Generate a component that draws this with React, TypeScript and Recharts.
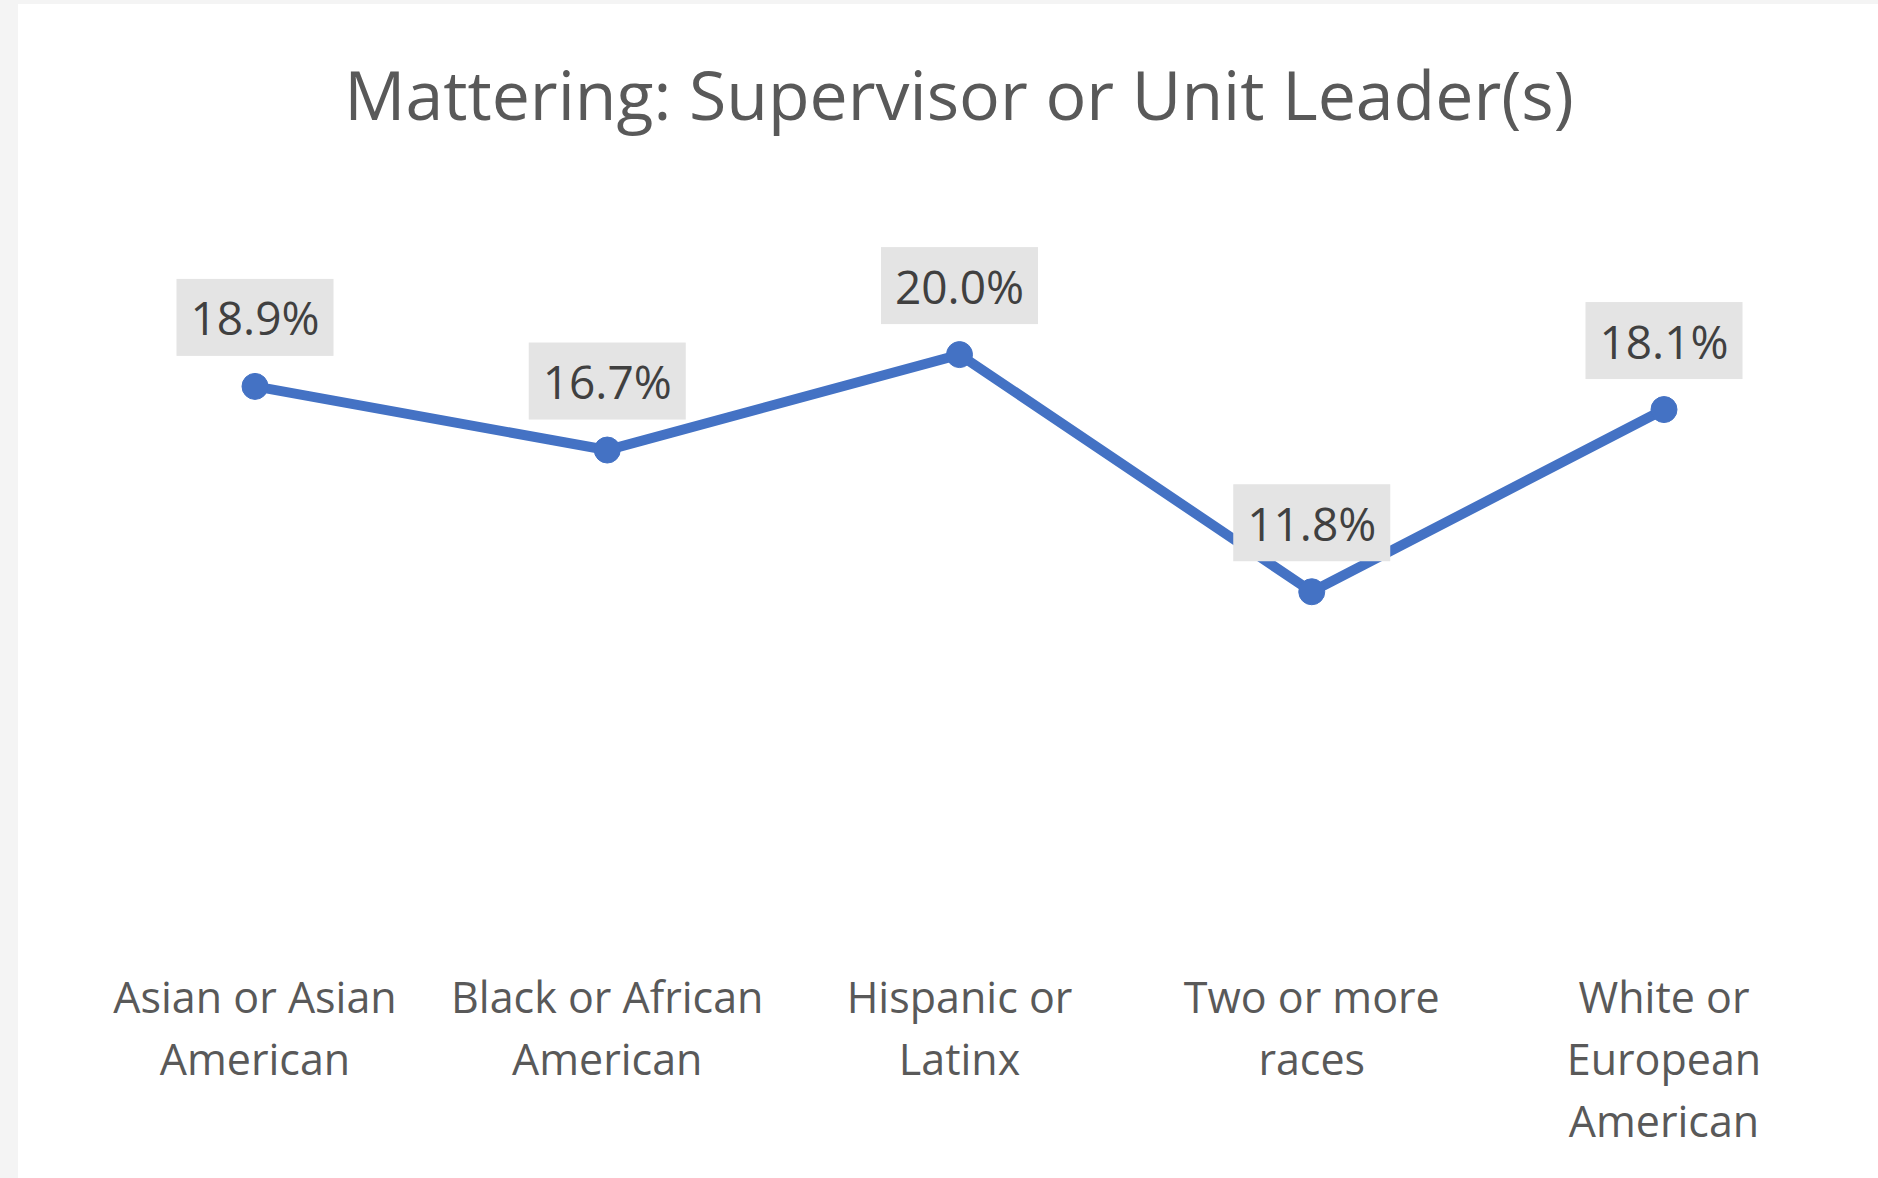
import { LineChart, Line, XAxis, YAxis, LabelList } from 'recharts'

const categories = [
  'Asian or Asian\nAmerican',
  'Black or African\nAmerican',
  'Hispanic or\nLatinx',
  'Two or more\nraces',
  'White or\nEuropean\nAmerican',
]
const values = [18.9, 16.7, 20.0, 11.8, 18.1]

const data = categories.map((name, i) => ({ name, value: values[i] }))

const FONT = '"Open Sans", "Noto Sans", sans-serif'
const GRAY = '#595959'
const BLUE = '#4472C4'

function CategoryTick(props: any) {
  const { x, y, payload } = props
  const lines = String(payload.value).split('\n')
  return (
    <text x={x} y={y} textAnchor="middle" fill={GRAY} fontFamily={FONT} fontSize={43}>
      {lines.map((line, i) => (
        <tspan key={i} x={x} y={y + 55 + i * 62} dominantBaseline="central">
          {line}
        </tspan>
      ))}
    </text>
  )
}

function ValueLabel(props: any) {
  const { x, y, value } = props
  const w = 157
  const h = 77
  const cy = y - 69
  return (
    <g>
      <rect x={x - w / 2} y={cy - h / 2} width={w} height={h} fill="#e4e4e4" />
      <text
        x={x}
        y={cy}
        textAnchor="middle"
        dominantBaseline="central"
        fill="#404040"
        fontFamily={FONT}
        fontSize={46}
      >
        {`${Number(value).toFixed(1)}%`}
      </text>
    </g>
  )
}

export default function App() {
  return (
    <div style={{ position: 'absolute', left: 0, top: 0, width: 1878, height: 1178, background: '#f4f4f4', overflow: 'hidden' }}>
      <div style={{ position: 'absolute', left: 18, top: 4, width: 1860, height: 1174, background: '#ffffff' }} />
      <div
        style={{
          position: 'absolute',
          left: 0,
          top: 46,
          width: 1918,
          textAlign: 'center',
          fontFamily: FONT,
          fontSize: 68,
          color: GRAY,
          lineHeight: '96px',
        }}
      >
        Mattering: Supervisor or Unit Leader(s)
      </div>
      <div style={{ position: 'absolute', left: 0, top: 0 }}>
        <LineChart
          width={1878}
          height={1178}
          data={data}
          margin={{ top: 210, right: 214, bottom: 45, left: 255 }}
        >
          <XAxis
            dataKey="name"
            axisLine={false}
            tickLine={false}
            interval={0}
            height={200}
            tick={<CategoryTick />}
          />
          <YAxis hide width={0} domain={[0, 25]} />
          <Line
            type="linear"
            dataKey="value"
            stroke={BLUE}
            strokeWidth={10}
            dot={{ r: 13, fill: BLUE, stroke: BLUE, strokeWidth: 1 }}
            activeDot={false}
            isAnimationActive={false}
          >
            <LabelList dataKey="value" content={<ValueLabel />} />
          </Line>
        </LineChart>
      </div>
    </div>
  )
}
